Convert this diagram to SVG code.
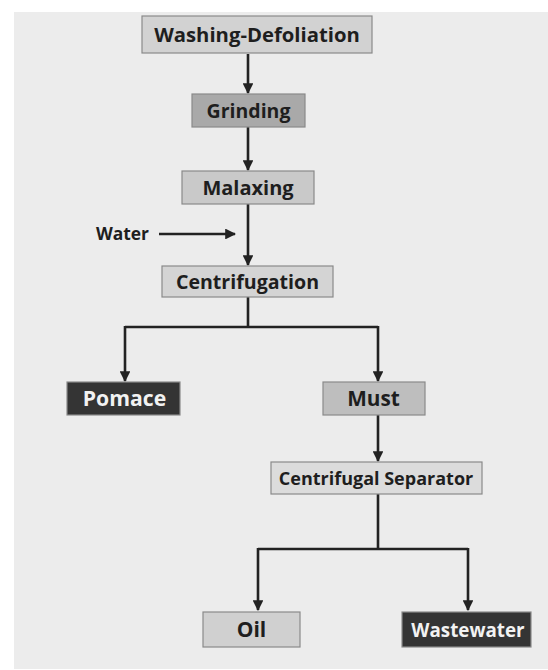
<svg xmlns="http://www.w3.org/2000/svg" width="548" height="670" viewBox="0 0 548 670">
<defs>
<style>
.box{stroke:#8a8a8a;stroke-width:1.2}
.t{font-family:"Open Sans","Liberation Sans",sans-serif;font-weight:bold;font-size:20px;fill:#1e1e1e;text-anchor:middle}
.tw{fill:#f2f2f2}
.c{fill:none;stroke:#222;stroke-width:2.6}
</style>
<marker id="ah" viewBox="0 0 10 10" refX="9" refY="5" markerWidth="4.4" markerHeight="4.2" markerUnits="strokeWidth" orient="auto">
<path d="M0,0 L10,5 L0,10 z" fill="#222"/>
</marker>
</defs>
<rect x="0" y="0" width="548" height="670" fill="#ffffff"/>
<rect x="14" y="12" width="534" height="657" fill="#ececec"/>
<g id="connectors">
<path class="c" d="M248,54 V93" marker-end="url(#ah)"/>
<path class="c" d="M248,127 V170" marker-end="url(#ah)"/>
<path class="c" d="M248,204 V265" marker-end="url(#ah)"/>
<path class="c" d="M159,234 H235" marker-end="url(#ah)"/>
<path class="c" d="M248,297 V327 M125,327 H378"/>
<path class="c" d="M125,326 V381" marker-end="url(#ah)"/>
<path class="c" d="M378,326 V381" marker-end="url(#ah)"/>
<path class="c" d="M378,415 V461" marker-end="url(#ah)"/>
<path class="c" d="M378,494 V549 M258,549 H468"/>
<path class="c" d="M258,548 V610" marker-end="url(#ah)"/>
<path class="c" d="M468,548 V610" marker-end="url(#ah)"/>
</g>
<g id="washing"><rect class="box" x="142" y="16" width="230" height="37" fill="#d2d2d2"/><text class="t" x="257" y="42" style="font-size:20.3px">Washing-Defoliation</text></g>
<g id="grinding"><rect class="box" x="192" y="94" width="113" height="33" fill="#a9a9a9"/><text class="t" x="248.5" y="117.5" style="font-size:19.5px">Grinding</text></g>
<g id="malaxing"><rect class="box" x="182" y="171" width="132" height="33" fill="#c9c9c9"/><text class="t" x="248" y="194.5">Malaxing</text></g>
<g id="water"><text class="t" x="122.5" y="240" style="font-size:17.4px">Water</text></g>
<g id="centrifugation"><rect class="box" x="162" y="266" width="171" height="31" fill="#d4d4d4"/><text class="t" x="247.5" y="289" style="font-size:19.6px">Centrifugation</text></g>
<g id="pomace"><rect class="box" x="67" y="382" width="113" height="33" fill="#343434" stroke="#222"/><text class="t tw" x="124.5" y="405.5" style="font-size:21.2px">Pomace</text></g>
<g id="must"><rect class="box" x="323" y="382" width="102" height="33" fill="#bebebe"/><text class="t" x="373.5" y="405.5" style="font-size:20.8px">Must</text></g>
<g id="separator"><rect class="box" x="271" y="462" width="211" height="32" fill="#dcdcdc"/><text class="t" x="376" y="484.5" style="font-size:18px">Centrifugal Separator</text></g>
<g id="oil"><rect class="box" x="203" y="612" width="97" height="35" fill="#d0d0d0"/><text class="t" x="251.5" y="636.5" style="font-size:21px">Oil</text></g>
<g id="wastewater"><rect class="box" x="402" y="612" width="129" height="35" fill="#343434" stroke="#222"/><text class="t tw" x="468" y="636.5" style="font-size:18.8px">Wastewater</text></g>
</svg>
